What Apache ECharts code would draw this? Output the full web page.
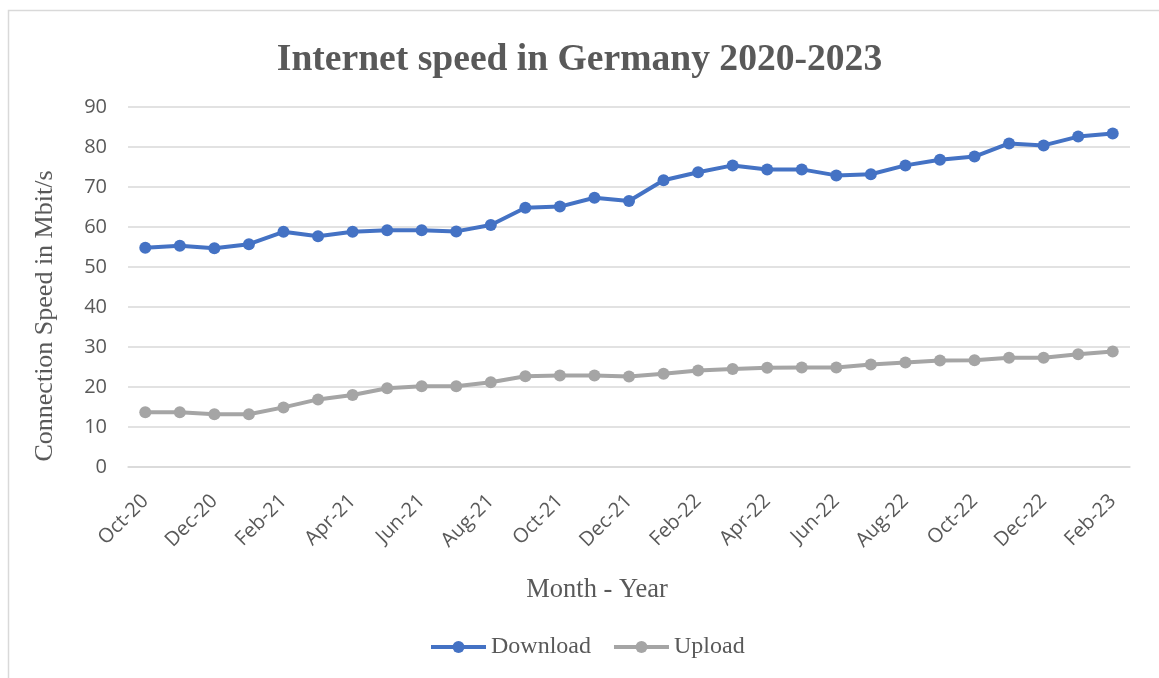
<!DOCTYPE html>
<html>
<head>
<meta charset="utf-8">
<script src="https://cdn.jsdelivr.net/npm/echarts@6/dist/echarts.min.js"></script>
<style>
html,body{margin:0;padding:0;background:#fff;}
#c{width:1159px;height:678px;}
</style>
</head>
<body>
<div id="c"></div>
<script>
const categories = ['Oct-20','Nov-20','Dec-20','Jan-21','Feb-21','Mar-21','Apr-21','May-21','Jun-21','Jul-21','Aug-21','Sep-21','Oct-21','Nov-21','Dec-21','Jan-22','Feb-22','Mar-22','Apr-22','May-22','Jun-22','Jul-22','Aug-22','Sep-22','Oct-22','Nov-22','Dec-22','Jan-23','Feb-23'];
const download = [54.8,55.3,54.7,55.7,58.8,57.7,58.8,59.2,59.2,58.9,60.5,64.8,65.1,67.3,66.5,71.7,73.7,75.4,74.4,74.4,72.9,73.2,75.4,76.8,77.6,80.9,80.4,82.6,83.4];
const upload = [13.7,13.7,13.2,13.2,14.9,16.9,18.0,19.7,20.2,20.2,21.2,22.7,22.9,22.9,22.6,23.3,24.1,24.5,24.8,24.9,24.9,25.6,26.1,26.6,26.7,27.3,27.3,28.2,28.9];
const yTicks = {min:0, max:90, interval:10};
const seriesNames = ['Download','Upload'];
const titleText = 'Internet speed in Germany 2020-2023';
const yAxisTitle = 'Connection Speed in Mbit/s';
const xAxisTitle = 'Month - Year';

const chart = echarts.init(document.getElementById('c'), null, {renderer:'canvas'});
const serif = '"Liberation Serif", "Times New Roman", serif';
const sans = '"Open Sans", "Noto Sans", sans-serif';
chart.setOption({
  backgroundColor:'#fff',
  animation:false,
  title:{
    text:titleText, left:'center', top:36,
    textStyle:{fontFamily:serif, fontWeight:'bold', fontSize:37.6, color:'#595959'}
  },
  legend:{
    data:seriesNames, left:424, top:630,
    itemWidth:55, itemHeight:15, itemGap:21,
    lineStyle:{width:4},
    textStyle:{fontFamily:serif, fontSize:24, color:'#595959'}
  },
  grid:{left:128, right:29, top:107, bottom:211},
  xAxis:{
    type:'category', data:categories, boundaryGap:true,
    axisLine:{lineStyle:{color:'#d9d9d9', width:1.5}},
    axisTick:{show:false},
    axisLabel:{interval:1, rotate:45, margin:31, fontFamily:sans, fontSize:20, color:'#595959'}
  },
  yAxis:{
    type:'value', min:yTicks.min, max:yTicks.max, interval:yTicks.interval,
    axisLine:{show:false}, axisTick:{show:false},
    axisLabel:{margin:21, fontFamily:sans, fontSize:20, color:'#595959'},
    splitLine:{lineStyle:{color:'#d9d9d9', width:1.5}}
  },
  graphic:[
    {type:'rect', shape:{x:8.5, y:10.5, width:1200, height:700}, style:{fill:'none', stroke:'#d9d9d9', lineWidth:1.5}, silent:true, z:-1},
    {type:'text', x:45, y:316, rotation:Math.PI/2, style:{text:yAxisTitle, fontFamily:serif, fontSize:26, fill:'#595959', textAlign:'center', textVerticalAlign:'middle'}},
    {type:'text', x:597, y:590, style:{text:xAxisTitle, fontFamily:serif, fontSize:26.5, fill:'#595959', textAlign:'center', textVerticalAlign:'middle'}}
  ],
  series:[
    {name:seriesNames[0], type:'line', data:download, symbol:'circle', symbolSize:12,
     lineStyle:{width:4, color:'#4472C4'}, itemStyle:{color:'#4472C4'}},
    {name:seriesNames[1], type:'line', data:upload, symbol:'circle', symbolSize:12,
     lineStyle:{width:4, color:'#A5A5A5'}, itemStyle:{color:'#A5A5A5'}}
  ]
});
</script>
</body>
</html>
